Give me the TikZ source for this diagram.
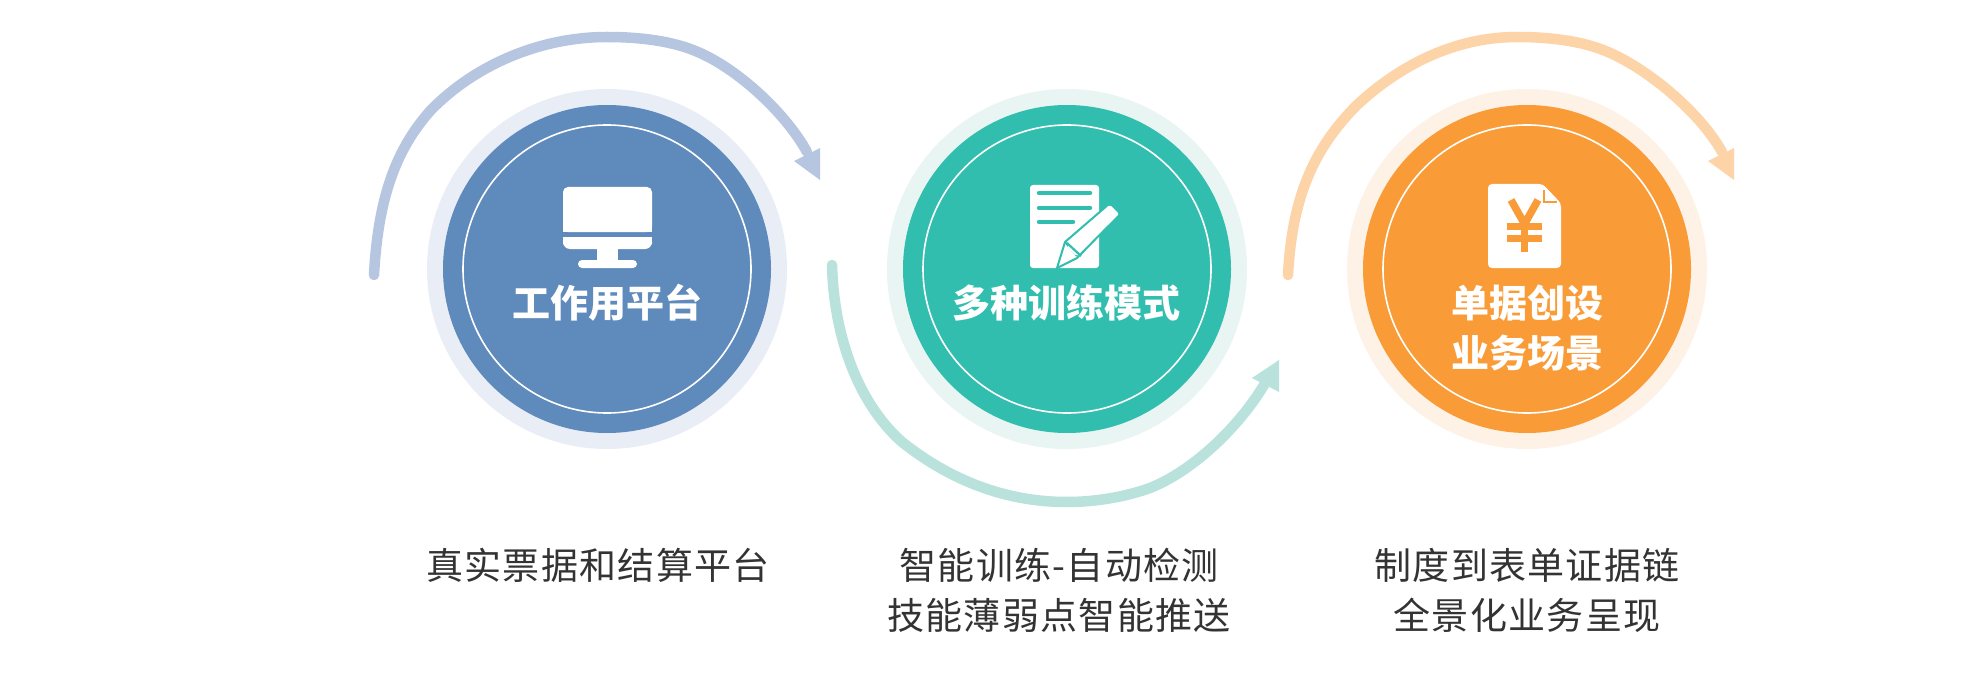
\documentclass[tikz,border=0pt]{standalone}
\usepackage{fontspec}
\newfontfamily\cjk{Noto Sans CJK SC}
\newfontfamily\cjkdesc[LetterSpace=3.5]{Noto Sans CJK SC}
\definecolor{blueM}{HTML}{5F8ABC}\definecolor{blueH}{HTML}{E9EEF6}\definecolor{blueA}{HTML}{B7C6E0}
\definecolor{tealM}{HTML}{31BEAF}\definecolor{tealH}{HTML}{E8F5F2}\definecolor{tealA}{HTML}{B8E2DB}
\definecolor{orgM}{HTML}{F99C38}\definecolor{orgH}{HTML}{FEF2E6}\definecolor{orgA}{HTML}{FDD3A8}
\definecolor{descT}{HTML}{333333}
\tikzset{
 halo/.style={circle,draw=none,inner sep=0pt,minimum size=360pt},
 disc/.style={circle,draw=none,inner sep=0pt,minimum size=328pt},
 ring/.style={circle,draw=white,line width=1.6pt,inner sep=0pt,minimum size=288pt},
 title/.style={text=white,align=center,inner sep=0pt,font=\cjk\bfseries\fontsize{38}{50}\selectfont},
 desc/.style={text=descT,align=center,inner sep=0pt,font=\cjkdesc\fontsize{37}{50}\selectfont},
 sweep/.style={line width=10.5pt,line cap=round},
 iconw/.style={fill=white,draw=none},
}
\begin{document}
\begin{tikzpicture}[x=1pt,y=-1pt]
\useasboundingbox (0,0) rectangle (1985,687);
\fill[white] (0,0) rectangle (1985,687);
% discs
\foreach \n/\cx/\h/\m in {1/607/blueH/blueM,2/1067/tealH/tealM,3/1527/orgH/orgM}{
  \node[halo,fill=\h] (halo\n) at (\cx,269) {};
  \node[disc,fill=\m] (disc\n) at (\cx,269) {};
  \node[ring] (ring\n) at (\cx,269) {};
}
% sweeps
\coordinate (s1) at (374,275); \coordinate (e1) at (807,152);
\coordinate (s2) at (832,265); \coordinate (e2) at (1264,385);
\coordinate (s3) at (1288,275); \coordinate (e3) at (1722,152);
\draw[sweep,blueA] (s1) .. controls (378,200) and (395,150) .. (431,110) .. controls (475,65) and (540,37) .. (607,37)
  .. controls (640,37) and (670,41) .. (693,50) .. controls (735,66) and (785,112) .. (e1);
\fill[blueA] (820,148) -- (820,180) -- (794,161) -- cycle;
\draw[sweep,tealA] (s2) .. controls (834,340) and (860,405) .. (902,442) .. controls (950,480) and (1005,502) .. (1067,502)
  .. controls (1095,502) and (1125,497) .. (1150,488) .. controls (1195,470) and (1240,425) .. (e2);
\fill[tealA] (1279,360) -- (1279,392) -- (1252,378) -- cycle;
\draw[sweep,orgA] (s3) .. controls (1292,200) and (1312,150) .. (1357,105) .. controls (1400,65) and (1455,37) .. (1517,37)
  .. controls (1550,37) and (1580,41) .. (1603,50) .. controls (1645,66) and (1700,112) .. (e3);
\fill[orgA] (1734,148) -- (1734,180) -- (1708,161) -- cycle;
% monitor
\fill[iconw,rounded corners=5pt] (563,232) -- (563,187) -- (652,187) -- (652,232) -- cycle;
\fill[white] (563,225) rectangle (652,232);
\fill[iconw,rounded corners=7pt] (563,237) -- (563,249) -- (652,249) -- (652,237) -- cycle;
\fill[white] (563,237) rectangle (652,242);
\fill[white] (597,248) rectangle (618,261);
\fill[iconw,rounded corners=4pt] (578,260) rectangle (637,268);
% note and pencil
\fill[iconw,rounded corners=3pt] (1030,185) rectangle (1099,268);
\foreach \yy/\xx in {193/1090,208/1090,222/1073}{
  \draw[tealM,line width=4.5pt,line cap=round] (1039,\yy) -- (\xx,\yy);
}
\draw[tealM,line width=2pt,line join=round,fill=white] (1109,204) -- (1120,214) -- (1077,258) -- (1057,268) -- (1065,242) -- cycle;
\draw[tealM,line width=2pt] (1065,242) -- (1077,256);
\fill[white,rounded corners=2pt] (1110,205) -- (1119,214) -- (1076,256) -- (1067,247) -- cycle;
\draw[tealM,line width=2.2pt] (1067,243) -- (1081,256);
% receipt
\fill[iconw,rounded corners=4pt] (1488,184) -- (1543,184) -- (1561,203) -- (1561,268) -- (1488,268) -- cycle;
\fill[orgM] (1543,184) -- (1561,203) -- (1565,180) -- cycle;
\draw[orgM,line width=1.4pt] (1544,190) -- (1544,202) -- (1557,202);
\draw[orgM,line width=7.5pt] (1511,200) -- (1524.5,224) -- (1538,200);
\draw[orgM,line width=7.5pt] (1524.5,224) -- (1524.5,252);
\draw[orgM,line width=7pt] (1507,226.5) -- (1542,226.5);
\draw[orgM,line width=7pt] (1507,238.5) -- (1542,238.5);
% titles
\node[title] (t1) at (607,303) {工作用平台};
\node[title] (t2) at (1066,303) {多种训练模式};
\node[title] (t3) at (1527,328) {单据创设\\业务场景};
% descriptions
\node[desc] (d1) at (598,565) {真实票据和结算平台};
\node[desc] (d2) at (1059,590) {智能训练-自动检测\\技能薄弱点智能推送};
\node[desc] (d3) at (1527,590) {制度到表单证据链\\全景化业务呈现};
\end{tikzpicture}
\end{document}
